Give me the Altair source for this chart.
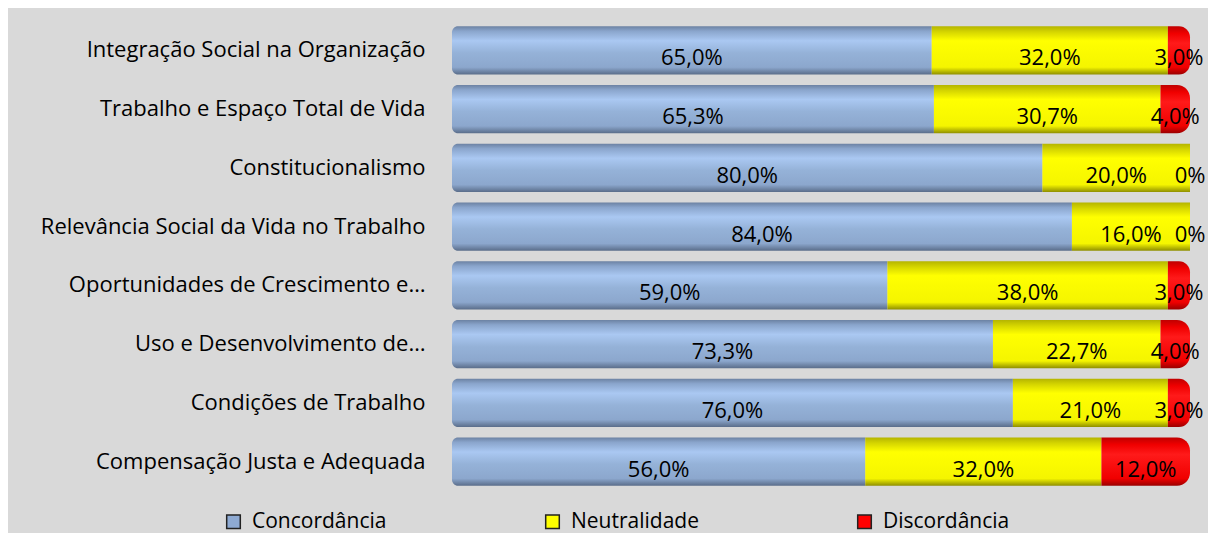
import altair as alt
import pandas as pd

categories = [
    "Integração Social na Organização",
    "Trabalho e Espaço Total de Vida",
    "Constitucionalismo",
    "Relevância Social da Vida no Trabalho",
    "Oportunidades de Crescimento e…",
    "Uso e Desenvolvimento de…",
    "Condições de Trabalho",
    "Compensação Justa e Adequada",
]
series = ["Concordância", "Neutralidade", "Discordância"]
concordancia = [65.0, 65.3, 80.0, 84.0, 59.0, 73.3, 76.0, 56.0]
neutralidade = [32.0, 30.7, 20.0, 16.0, 38.0, 22.7, 21.0, 32.0]
discordancia = [3.0, 4.0, 0.0, 0.0, 3.0, 4.0, 3.0, 12.0]


def fmt(v):
    return "0%" if v == 0 else f"{v:.1f}%".replace(".", ",")


rows = []
for i, c in enumerate(categories):
    for k, (s, vals) in enumerate(zip(series, [concordancia, neutralidade, discordancia])):
        rows.append({"category": c, "series": s, "order": k, "value": vals[i], "label": fmt(vals[i])})
df = pd.DataFrame(rows)

FONT = "Open Sans"


def grad(stops):
    return alt.LinearGradient(
        gradient="linear", x1=0, y1=0, x2=0, y2=1,
        stops=[alt.GradientStop(color=c, offset=o) for o, c in stops],
    )


blue_grad = grad([(0, "#6c82a3"), (0.1, "#8aa5cc"), (0.3, "#aac8f2"), (0.55, "#95b2d8"),
                  (0.85, "#8ca7cd"), (1, "#5a6d8a")])
yellow_grad = grad([(0, "#b5b500"), (0.12, "#d6d600"), (0.3, "#ffff00"), (0.85, "#f5f500"),
                    (1, "#8f8f00")])
red_grad = grad([(0, "#c00000"), (0.15, "#f00000"), (0.35, "#ff1a1a"), (0.85, "#f00000"),
                 (1, "#9a0000")])

y_enc = alt.Y(
    "category:N",
    sort=categories,
    scale=alt.Scale(paddingInner=0.18, paddingOuter=0.09),
    axis=alt.Axis(title=None, ticks=False, domain=False, labelFont=FONT, labelFontSize=22,
                  labelColor="black", labelPadding=27, labelLimit=500),
)
x_scale = alt.Scale(domain=[0, 100], nice=False, zero=True)

base = alt.Chart(df).transform_stack(
    stack="value", groupby=["category"], as_=["x0", "x1"],
    sort=[alt.SortField("order", order="ascending")],
)


def seg(name, color, **corner):
    return base.transform_filter(alt.datum.series == name).mark_bar(color=color, **corner).encode(
        y=y_enc,
        x=alt.X("x0:Q", scale=x_scale, axis=None),
        x2="x1:Q",
    )


blue = seg("Concordância", blue_grad, cornerRadiusTopLeft=6, cornerRadiusBottomLeft=6)
yellow = seg("Neutralidade", yellow_grad)
red = seg("Discordância", red_grad, cornerRadiusTopRight=13, cornerRadiusBottomRight=13)

legend_layer = base.mark_bar(opacity=0).encode(
    y=y_enc,
    x=alt.X("x0:Q", scale=x_scale, axis=None),
    x2="x1:Q",
    color=alt.Color(
        "series:N",
        scale=alt.Scale(domain=series, range=["#8eaad3", "#ffff00", "#ff0000"]),
        legend=alt.Legend(
            title=None, orient="none", legendX=-229, legendY=490, direction="horizontal",
            columns=3, gridAlign="each", columnPadding=155, symbolType="square", symbolSize=185,
            symbolStrokeColor="#222222", symbolStrokeWidth=1.5, symbolOpacity=1,
            labelFont=FONT, labelFontSize=21, labelColor="black", labelOffset=8,
        ),
    ),
)

text = base.transform_calculate(mid="(datum.x0 + datum.x1) / 2").mark_text(
    font=FONT, fontSize=22, color="black", dy=8
).encode(
    y=y_enc,
    x=alt.X("mid:Q", scale=x_scale, axis=None),
    text="label:N",
)

chart = alt.layer(legend_layer, blue, yellow, red, text).properties(
    width=738, height=470,
    padding={"left": 444, "top": 13, "right": 18, "bottom": 42},
    autosize=alt.AutoSizeParams(type="none"),
    background="#d9d9d9",
).configure_view(stroke=None)

chart.save("out.html", embed_options={"renderer": "svg", "actions": False})
